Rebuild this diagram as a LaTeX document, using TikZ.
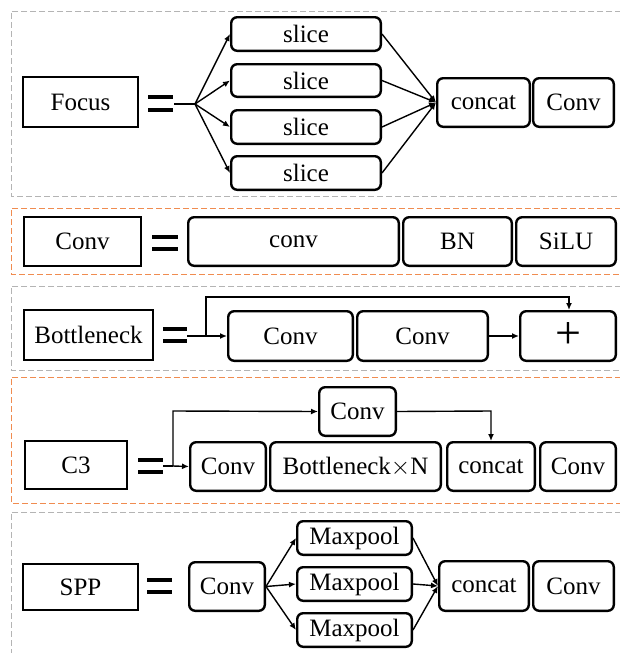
\documentclass[tikz,border=0pt]{standalone}
\usepackage{fontspec}
\setmainfont{Liberation Serif}
\newfontfamily\tnr{Liberation Serif}
\usetikzlibrary{arrows.meta}
\definecolor{dgray}{RGB}{180,180,180}
\definecolor{dorange}{RGB}{240,140,80}
\tikzset{
  sqbox/.style={draw, line width=2.4pt, inner sep=0pt, font=\tnr\fontsize{25}{29}\selectfont},
  rbox/.style={draw, line width=2.4pt, rounded corners=6pt, inner sep=0pt, font=\tnr\fontsize{25}{29}\selectfont},
  eqline/.style={line width=3.6pt},
  conn/.style={line width=1.4pt},
  arr/.style={line width=1.4pt, -{Latex[length=7pt,width=6pt]}},
  graydash/.style={draw=dgray, line width=1pt, dash pattern=on 6pt off 3pt},
  orangedash/.style={draw=dorange, line width=1pt, dash pattern=on 6pt off 3pt},
}
\newcommand{\bx}[8]{% style, name, x1, x2, y1, y2, text
  \node[#1, minimum width={#4-#3-2.4pt}, minimum height={#6-#5-2.4pt}] (#2) at ({(#3+#4)/2},{(#5+#6)/2}) {#7};}
\begin{document}
\begin{tikzpicture}[x=1pt,y=-1pt]
\useasboundingbox (0,0) rectangle (619,653);
\fill[white] (0,0) rectangle (619,653);
% dashed frames
\draw[graydash] (630,11) -- (11,11) -- (11,196) -- (630,196);
\draw[orangedash] (630,208) -- (11,208) -- (11,274) -- (630,274);
\draw[graydash] (630,286) -- (11,286) -- (11,370) -- (630,370);
\draw[orangedash] (630,377) -- (11,377) -- (11,503) -- (630,503);
\draw[graydash] (630,512) -- (11,512) -- (11,660);

% ---------- Focus ----------
\bx{sqbox}{focus}{22}{139}{76}{128}{Focus}{}
\draw[eqline] (148,97) -- (173,97) (148,110) -- (173,110);
\coordinate (fs) at (174,104);
\coordinate (fb) at (195,104);
\bx{rbox}{s1}{230}{382}{16}{52}{slice}{}
\bx{rbox}{s2}{230}{382}{63}{98}{slice}{}
\bx{rbox}{s3}{230}{382}{109}{145}{slice}{}
\bx{rbox}{s4}{230}{382}{155}{191}{slice}{}
\bx{rbox}{fcat}{436}{531}{77}{128}{concat}{}
\bx{rbox}{fconv}{532}{615}{77}{128}{Conv}{}
\draw[conn] (fs) -- (fb);
\foreach \s in {s1,s2,s3,s4} {
  \draw[arr] (fb) -- (\s.west);
  \draw[arr] (\s.east) -- (fcat.west);
}

% ---------- Conv ----------
\bx{sqbox}{convl}{23}{142}{216}{267}{Conv}{}
\draw[eqline] (152,237) -- (178,237) (152,249) -- (178,249);
\bx{rbox}{cconv}{187}{400}{216}{267}{conv}{}
\bx{rbox}{cbn}{402}{513}{216}{267}{BN}{}
\bx{rbox}{csilu}{515}{617}{216}{267}{SiLU}{}

% ---------- Bottleneck ----------
\bx{sqbox}{bott}{23}{154}{309}{361}{Bottleneck}{}
\draw[eqline] (163,329) -- (187,329) (163,341) -- (187,341);
\coordinate (bs) at (187,336);
\coordinate (bb) at (206,336);
\bx{rbox}{bc1}{227}{354}{310}{362}{Conv}{}
\bx{rbox}{bc2}{356}{489}{310}{362}{Conv}{}
\bx{rbox}{bplus}{519}{617}{310}{362}{\fontsize{46}{46}\selectfont +}{}
\coordinate (bt1) at (206,297);
\coordinate (bt2) at (569,297);
\draw[conn] (bs) -- (bb);
\draw[arr] (bb) -- (bc1.west);
\draw[arr] (bb) -- (bt1) -- (bt2) -- (bt2 |- bplus.north);
\draw[arr] (bc2.east) -- (bplus.west);

% ---------- C3 ----------
\bx{sqbox}{c3}{24}{128}{440}{490}{C3}{}
\draw[eqline] (138,460) -- (163,460) (138,472) -- (163,472);
\coordinate (cs) at (163,466);
\coordinate (cb) at (173,466);
\bx{rbox}{ctop}{318}{397}{386}{437}{Conv}{}
\bx{rbox}{cc1}{189}{267}{441}{492}{Conv}{}
\bx{rbox}{cbot}{269}{442}{441}{492}{Bottleneck$\times$N}{}
\bx{rbox}{ccat}{446}{536}{441}{492}{concat}{}
\bx{rbox}{cc2}{539}{617}{441}{492}{Conv}{}
\coordinate (ct1) at (173,411);
\coordinate (ct2) at (491,411);
\draw[conn] (cs) -- (cb);
\draw[arr] (cb) -- (cc1.west);
\draw[arr] (cb) -- (ct1) -- (ctop.west);
\draw[arr] (ctop.east) -- (ct2) -- (ct2 |- ccat.north);

% ---------- SPP ----------
\bx{sqbox}{spp}{22}{139}{563}{611}{SPP}{}
\draw[eqline] (147,580) -- (172,580) (147,592) -- (172,592);
\bx{rbox}{sconv}{188}{266}{561}{612}{Conv}{}
\bx{rbox}{m1}{296}{413}{520}{556}{Maxpool}{}
\bx{rbox}{m2}{296}{413}{566}{602}{Maxpool}{}
\bx{rbox}{m3}{296}{413}{612}{648}{Maxpool}{}
\bx{rbox}{scat}{438}{530}{560}{612}{concat}{}
\bx{rbox}{sconv2}{532}{615}{560}{612}{Conv}{}
\foreach \m in {m1,m2,m3} {
  \draw[arr] (sconv.east) -- (\m.west);
  \draw[arr] (\m.east) -- (scat.west);
}
\end{tikzpicture}
\end{document}
